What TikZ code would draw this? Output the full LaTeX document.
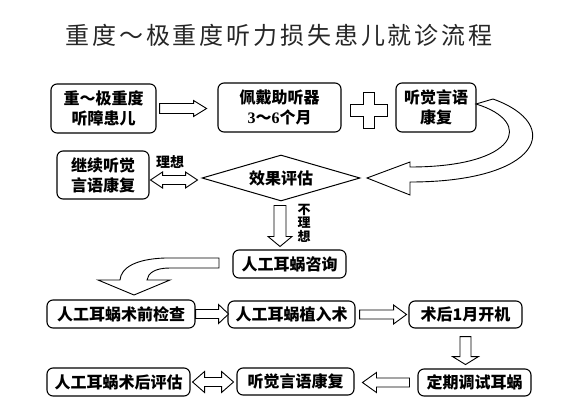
\documentclass[tikz,border=0pt]{standalone}
\usepackage{fontspec}
\setmainfont{Noto Sans CJK SC}
\newfontfamily\titlefont[LetterSpace=12]{Noto Sans CJK SC}
\newfontfamily\numfont{Liberation Serif}
\usetikzlibrary{shapes.geometric, calc}

\tikzset{
  box/.style={draw, line width=1.1pt, rounded corners=6pt, align=center, inner sep=0pt,
    font=\fontsize{16}{20}\selectfont\bfseries},
  hollow/.style={draw, fill=white, line width=0.9pt, line join=miter},
  pics/harrow/.style n args={4}{code={
    \draw[hollow] (0,-#2) -- ({#1-#4},-#2) -- ({#1-#4},-#3) -- (#1,0) -- ({#1-#4},#3) -- ({#1-#4},#2) -- (0,#2) -- cycle;
  }},
  pics/dharrow/.style n args={4}{code={
    \draw[hollow] (0,0) -- (#4,-#3) -- (#4,-#2) -- ({#1-#4},-#2) -- ({#1-#4},-#3) -- (#1,0)
      -- ({#1-#4},#3) -- ({#1-#4},#2) -- (#4,#2) -- (#4,#3) -- cycle;
  }},
}

\begin{document}
\begin{tikzpicture}[x=1pt, y=-1pt]
    \useasboundingbox (0,0) rectangle (583,414);

    \node[text=black!85, font=\titlefont\fontsize{24}{28}\selectfont] (title) at (279,35) {重度～极重度听力损失患儿就诊流程};

    % first steps
    \node[box, minimum width=105, minimum height=49] (s1) at (103.5,108.5) {重～极重度\\听障患儿};
    \node[box, minimum width=123, minimum height=49] (s2) at (279.5,107.5) {佩戴助听器\\{\numfont 3}～{\numfont 6}个月};
    \node[box, minimum width=80, minimum height=49] (s3) at (436,107.5) {听觉言语\\康复};
    \node[box, minimum width=92, minimum height=48] (s4) at (103,175) {继续听觉\\言语康复};
    \node[draw, diamond, line width=1pt, aspect=3.4, inner sep=0pt, minimum width=158, minimum height=46,
      font=\fontsize{16}{20}\selectfont\bfseries] (eval) at (281,178) {效果评估};

    \pic at ($(s1.east)+(3,0)$) {harrow={47}{5}{8}{13}};
    \pic at ($(s4.east)+(1,5)$) {dharrow={47}{4.5}{8}{12}};
    \pic[rotate=-90] at ($(eval.south)+(-1,4)$) {harrow={41}{6}{12}{10}};

    % plus sign
    \begin{scope}[shift={($(s2.east)!0.5!(s3.west)+(0,2.5)$)}]
        \draw[hollow] (-5.5,-18) -- (5.5,-18) -- (5.5,-6) -- (18.5,-6) -- (18.5,6) -- (5.5,6)
          -- (5.5,18) -- (-5.5,18) -- (-5.5,6) -- (-18.5,6) -- (-18.5,-6) -- (-5.5,-6) -- cycle;
    \end{scope}

    % curved arrows
    \draw[hollow] (476,104) .. controls (535,122) and (518,167) .. (410,167) -- (410,162) -- (367,178)
      -- (410,195) -- (410,182) .. controls (540,182) and (565,125) .. (493,99) -- cycle;
    \draw[hollow] (219,258) -- (165,258) .. controls (135,259) and (121,268) .. (120,280) -- (98,280)
      -- (134,295) -- (170,280) -- (147,280) .. controls (148,273) and (155,268) .. (170,268) -- (219,268) -- cycle;

    \node[font=\fontsize{14}{14}\selectfont\bfseries] (ideal) at (170,162) {理想};
    \node[align=center, inner sep=0pt, font=\fontsize{13}{13.5}\selectfont\bfseries] (notideal) at (304,223) {不\\理\\想};

    % cochlear implant steps
    \node[box, minimum width=113, minimum height=28] (c1) at (289.5,264) {人工耳蜗咨询};
    \node[box, minimum width=148, minimum height=28] (p1) at (121,314) {人工耳蜗术前检查};
    \node[box, minimum width=127, minimum height=27] (p2) at (291.5,314.5) {人工耳蜗植入术};
    \node[box, minimum width=113, minimum height=27] (p3) at (465.5,314.5) {术后1月开机};
    \node[box, minimum width=113, minimum height=27] (p4) at (474.5,382.5) {定期调试耳蜗};
    \node[box, minimum width=117, minimum height=27] (p5) at (295.5,381.5) {听觉言语康复};
    \node[box, minimum width=143, minimum height=28] (p6) at (118.5,382) {人工耳蜗术后评估};

    \pic at (p1.east) {harrow={33}{4.5}{9.5}{10}};
    \pic at ($(p2.east)+(4,0)$) {harrow={47}{4.5}{9.5}{13}};
    \pic[rotate=-90] at ($(p3.south)+(0,8)$) {harrow={28}{5.5}{13}{8}};
    \pic[rotate=180] at ($(p4.west)+(-8,0)$) {harrow={47}{4.5}{10}{14}};
    \pic at ($(p6.east)+(2,0)$) {dharrow={41}{4.5}{10.5}{12}};
\end{tikzpicture}
\end{document}
